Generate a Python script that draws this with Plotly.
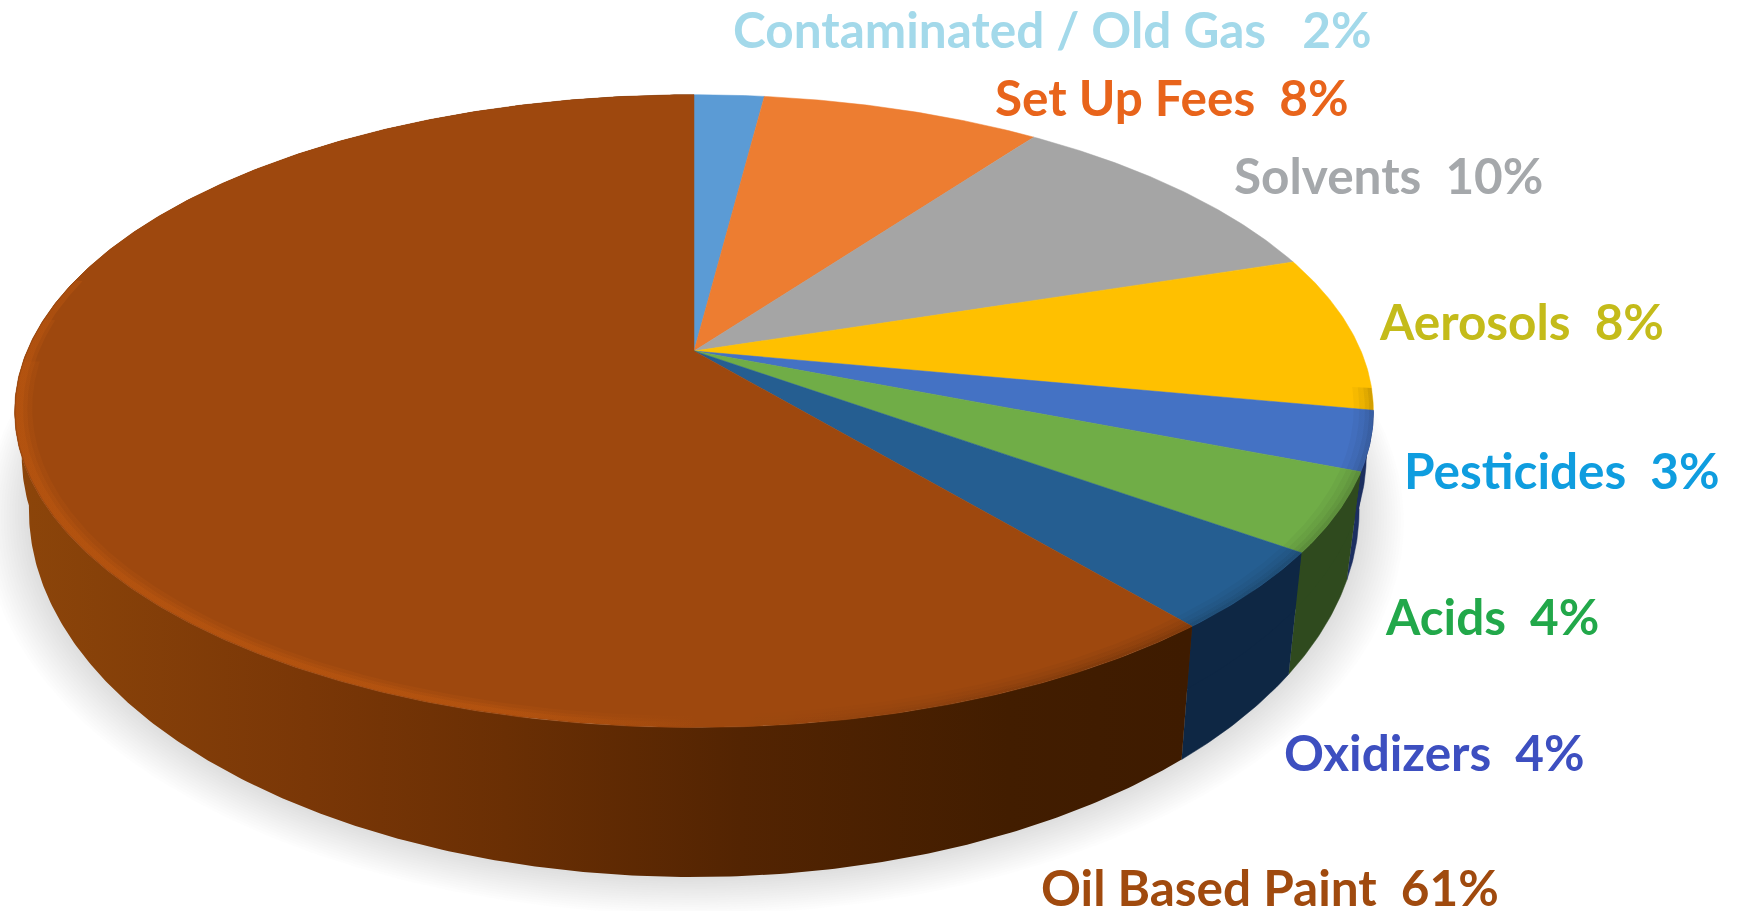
import numpy as np
import plotly.graph_objects as go

categories = ["Contaminated / Old Gas", "Set Up Fees", "Solvents", "Aerosols",
              "Pesticides", "Acids", "Oxidizers", "Oil Based Paint"]
values = [2, 8, 10, 8, 3, 4, 4, 61]
top_colors = ["#5b9bd5", "#ed7d31", "#a5a5a5", "#ffc000",
              "#4472c4", "#70ad47", "#255e91", "#9e480e"]
wall_colors = ["#3a6186", "#8f4c1e", "#646464", "#9a7400",
               "#1c2f60", "#2f4a1e", "#0e2744", "#6f3104"]
label_colors = ["#a3d9ea", "#e8641b", "#a5a8ab", "#c4bb1a",
                "#0f9ddf", "#22a84a", "#3d4fc0", "#a04a0e"]
label_gaps = [3, 2, 2, 2, 2, 2, 2, 2]
label_x = [731, 993, 1232, 1377, 1402, 1383, 1282, 1039]
label_y = [29, 97, 175, 321, 470, 616, 752, 887]

APEX_X, APEX_Y = 694, 351
TILT = 0.19
TOP = dict(a=667, b=305, dy=0)
MID = dict(a=660, b=330, dy=40)
BOTTOM = dict(a=653, b=354, dy=89)


def project(theta_deg, disc, r=1.0, grow=1.0, shift=0.0):
    t = np.radians(theta_deg)
    u, v = r * np.sin(t), -r * np.cos(t)
    den = 1 - TILT * v
    return (APEX_X + grow * disc["a"] * u / den,
            APEX_Y + disc["dy"] + shift + grow * disc["b"] * v / den)


def arc(t1, t2):
    return np.linspace(t1, t2, max(int(abs(t2 - t1) * 2), 2) + 1)


edges = np.concatenate([[0], np.cumsum(values)]) * 3.6
fig = go.Figure()

# soft shadow under the disc
full = arc(0, 360)
for i in range(16, 0, -1):
    sx, sy = project(full, BOTTOM, grow=1 + i * 0.0042, shift=i * 0.5)
    fig.add_trace(go.Scatter(x=sx, y=sy, mode="lines", fill="toself",
                             fillcolor="rgba(130,135,140,0.02)",
                             line=dict(width=0), hoverinfo="skip", showlegend=False))

# side walls of the front slices
for i in range(4, 8):
    th = arc(edges[i], edges[i + 1])
    tx, ty = project(th, TOP)
    for lower in (BOTTOM, MID):
        bx, by = project(th[::-1], lower)
        xs, ys = np.concatenate([tx, bx]), np.concatenate([ty, by])
        if i == 7:
            fig.add_trace(go.Scatter(
                x=xs, y=ys, mode="lines", fill="toself", name=categories[i],
                line=dict(width=0), hoverinfo="name", showlegend=False,
                fillgradient=dict(type="horizontal", start=14, stop=1185, colorscale=[
                    [0, "#8c450a"], [0.25, "#7a3707"], [0.42, "#6a2f04"],
                    [0.62, "#532402"], [0.85, "#421d00"], [1, "#3e1b00"]])))
        else:
            fig.add_trace(go.Scatter(x=xs, y=ys, mode="lines", fill="toself",
                                     fillcolor=wall_colors[i], name=categories[i],
                                     line=dict(width=0.5, color=wall_colors[i]),
                                     hoverinfo="name", showlegend=False))

# top face of every slice
for i in range(len(values)):
    th = arc(edges[i], edges[i + 1])
    tx, ty = project(th, TOP)
    fig.add_trace(go.Scatter(x=np.concatenate([[APEX_X], tx, [APEX_X]]),
                             y=np.concatenate([[APEX_Y], ty, [APEX_Y]]),
                             mode="lines", fill="toself", fillcolor=top_colors[i],
                             line=dict(width=0.5, color=top_colors[i]),
                             name=categories[i], hoverinfo="name", showlegend=False))

# bevel: soft lit rim on the paint slice, fading out towards the front centre
for r_in, alpha, end in ((0.975, 0.2, 268), (0.982, 0.28, 276), (0.988, 0.38, 284)):
    th = arc(180, end)
    ox, oy = project(th, TOP, r=0.9985)
    ix, iy = project(th[::-1], TOP, r=r_in)
    fig.add_trace(go.Scatter(
        x=np.concatenate([ox, ix]), y=np.concatenate([oy, iy]), mode="lines", fill="toself",
        line=dict(width=0), hoverinfo="skip", showlegend=False,
        fillgradient=dict(type="horizontal", start=14, stop=700, colorscale=[
            [0, f"rgba(190,88,16,{alpha})"], [0.7, f"rgba(190,88,16,{alpha})"],
            [1, "rgba(190,88,16,0)"]])))

# soft dark rim at the right side, fading out towards the front centre
for r_in, alpha in ((0.972, 0.035), (0.98, 0.04), (0.988, 0.05), (0.994, 0.06)):
    th = arc(edges[4] - 4, 178)
    ox, oy = project(th, TOP, r=1.0)
    ix, iy = project(th[::-1], TOP, r=r_in)
    fig.add_trace(go.Scatter(
        x=np.concatenate([ox, ix]), y=np.concatenate([oy, iy]), mode="lines", fill="toself",
        line=dict(width=0), hoverinfo="skip", showlegend=False,
        fillgradient=dict(type="horizontal", start=720, stop=1100, colorscale=[
            [0, "rgba(0,0,0,0)"], [1, f"rgba(0,0,0,{alpha})"]])))

for i, cat in enumerate(categories):
    fig.add_annotation(x=label_x[i], y=label_y[i], xref="x", yref="y",
                       text=f"{cat}{chr(160) * label_gaps[i]}{values[i]}%",
                       showarrow=False, xanchor="left", yanchor="middle",
                       font=dict(family="Lato", size=49.5, color=label_colors[i], weight="bold"))

fig.update_layout(width=1741, height=911, margin=dict(l=0, r=0, t=0, b=0),
                  paper_bgcolor="white", plot_bgcolor="white", showlegend=False,
                  xaxis=dict(range=[0, 1741], visible=False, fixedrange=True),
                  yaxis=dict(range=[911, 0], visible=False, fixedrange=True))
fig.write_html("out.html", post_script="document.body.style.margin='0';",
               config=dict(displayModeBar=False))
